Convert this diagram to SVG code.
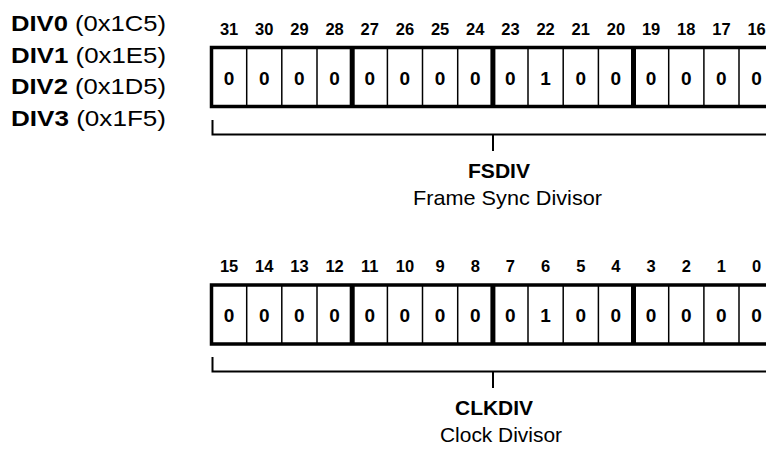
<svg xmlns="http://www.w3.org/2000/svg" width="766" height="450" viewBox="0 0 766 450">
<style>
text{font-family:"Liberation Sans",Arial,sans-serif;fill:#000}
.lbl{font-size:22.5px}
.b{font-weight:bold}
.bit{font-size:16.5px;font-weight:bold;text-anchor:middle}
.val{font-size:19px;font-weight:bold;text-anchor:middle}
.outer{fill:#fff;stroke:#000;stroke-width:3.5}
.thin{stroke:#000;stroke-width:1.5}
.thick{stroke:#000;stroke-width:5}
.br{fill:none;stroke:#000;stroke-width:2}
.cap{font-size:21px;font-weight:bold}
.sub{font-size:21px}
</style>
<g id="labels">
<text class="lbl" x="11" y="31" textLength="155" lengthAdjust="spacingAndGlyphs"><tspan class="b">DIV0</tspan> (0x1C5)</text>
<text class="lbl" x="11" y="62.5" textLength="155" lengthAdjust="spacingAndGlyphs"><tspan class="b">DIV1</tspan> (0x1E5)</text>
<text class="lbl" x="11" y="94" textLength="155" lengthAdjust="spacingAndGlyphs"><tspan class="b">DIV2</tspan> (0x1D5)</text>
<text class="lbl" x="11" y="125.5" textLength="155" lengthAdjust="spacingAndGlyphs"><tspan class="b">DIV3</tspan> (0x1F5)</text>
</g>
<g id="fsdiv-register">
<g class="bit">
<text x="229.1" y="34.5">31</text><text x="264.3" y="34.5">30</text><text x="299.4" y="34.5">29</text><text x="334.6" y="34.5">28</text>
<text x="369.8" y="34.5">27</text><text x="404.9" y="34.5">26</text><text x="440.1" y="34.5">25</text><text x="475.3" y="34.5">24</text>
<text x="510.4" y="34.5">23</text><text x="545.6" y="34.5">22</text><text x="580.8" y="34.5">21</text><text x="615.9" y="34.5">20</text>
<text x="651.1" y="34.5">19</text><text x="686.3" y="34.5">18</text><text x="721.4" y="34.5">17</text><text x="756.6" y="34.5">16</text>
</g>
<rect class="outer" x="211.5" y="47.5" width="562.7" height="59"/>
<g class="thin">
<line x1="246.7" y1="47.5" x2="246.7" y2="106.5"/><line x1="281.8" y1="47.5" x2="281.8" y2="106.5"/><line x1="317" y1="47.5" x2="317" y2="106.5"/>
<line x1="387.4" y1="47.5" x2="387.4" y2="106.5"/><line x1="422.5" y1="47.5" x2="422.5" y2="106.5"/><line x1="457.7" y1="47.5" x2="457.7" y2="106.5"/>
<line x1="528" y1="47.5" x2="528" y2="106.5"/><line x1="563.2" y1="47.5" x2="563.2" y2="106.5"/><line x1="598.4" y1="47.5" x2="598.4" y2="106.5"/>
<line x1="668.7" y1="47.5" x2="668.7" y2="106.5"/><line x1="703.9" y1="47.5" x2="703.9" y2="106.5"/><line x1="739" y1="47.5" x2="739" y2="106.5"/>
</g>
<g class="thick">
<line x1="352.2" y1="47.5" x2="352.2" y2="106.5"/><line x1="492.9" y1="47.5" x2="492.9" y2="106.5"/><line x1="633.5" y1="47.5" x2="633.5" y2="106.5"/>
</g>
<g class="val">
<text x="229.1" y="84.5">0</text><text x="264.3" y="84.5">0</text><text x="299.4" y="84.5">0</text><text x="334.6" y="84.5">0</text>
<text x="369.8" y="84.5">0</text><text x="404.9" y="84.5">0</text><text x="440.1" y="84.5">0</text><text x="475.3" y="84.5">0</text>
<text x="510.4" y="84.5">0</text><text x="545.6" y="84.5">1</text><text x="580.8" y="84.5">0</text><text x="615.9" y="84.5">0</text>
<text x="651.1" y="84.5">0</text><text x="686.3" y="84.5">0</text><text x="721.4" y="84.5">0</text><text x="756.6" y="84.5">0</text>
</g>
</g>
<g id="clkdiv-register">
<g class="bit">
<text x="229.1" y="271.5">15</text><text x="264.3" y="271.5">14</text><text x="299.4" y="271.5">13</text><text x="334.6" y="271.5">12</text>
<text x="369.8" y="271.5">11</text><text x="404.9" y="271.5">10</text><text x="440.1" y="271.5">9</text><text x="475.3" y="271.5">8</text>
<text x="510.4" y="271.5">7</text><text x="545.6" y="271.5">6</text><text x="580.8" y="271.5">5</text><text x="615.9" y="271.5">4</text>
<text x="651.1" y="271.5">3</text><text x="686.3" y="271.5">2</text><text x="721.4" y="271.5">1</text><text x="756.6" y="271.5">0</text>
</g>
<rect class="outer" x="211.5" y="285" width="562.7" height="59"/>
<g class="thin">
<line x1="246.7" y1="285" x2="246.7" y2="344"/><line x1="281.8" y1="285" x2="281.8" y2="344"/><line x1="317" y1="285" x2="317" y2="344"/>
<line x1="387.4" y1="285" x2="387.4" y2="344"/><line x1="422.5" y1="285" x2="422.5" y2="344"/><line x1="457.7" y1="285" x2="457.7" y2="344"/>
<line x1="528" y1="285" x2="528" y2="344"/><line x1="563.2" y1="285" x2="563.2" y2="344"/><line x1="598.4" y1="285" x2="598.4" y2="344"/>
<line x1="668.7" y1="285" x2="668.7" y2="344"/><line x1="703.9" y1="285" x2="703.9" y2="344"/><line x1="739" y1="285" x2="739" y2="344"/>
</g>
<g class="thick">
<line x1="352.2" y1="285" x2="352.2" y2="344"/><line x1="492.9" y1="285" x2="492.9" y2="344"/><line x1="633.5" y1="285" x2="633.5" y2="344"/>
</g>
<g class="val">
<text x="229.1" y="322">0</text><text x="264.3" y="322">0</text><text x="299.4" y="322">0</text><text x="334.6" y="322">0</text>
<text x="369.8" y="322">0</text><text x="404.9" y="322">0</text><text x="440.1" y="322">0</text><text x="475.3" y="322">0</text>
<text x="510.4" y="322">0</text><text x="545.6" y="322">1</text><text x="580.8" y="322">0</text><text x="615.9" y="322">0</text>
<text x="651.1" y="322">0</text><text x="686.3" y="322">0</text><text x="721.4" y="322">0</text><text x="756.6" y="322">0</text>
</g>
</g>
<g id="connectors">
<path class="br" d="M212.5,120 V134.5 H776"/>
<path class="br" d="M493,134.5 V151"/>
<path class="br" d="M212.5,357 V371.5 H776"/>
<path class="br" d="M493,371.5 V388"/>
</g>
<g id="fsdiv-label">
<text class="cap" x="468" y="178" textLength="62" lengthAdjust="spacingAndGlyphs">FSDIV</text>
<text class="sub" x="413" y="205" textLength="189" lengthAdjust="spacingAndGlyphs">Frame Sync Divisor</text>
</g>
<g id="clkdiv-label">
<text class="cap" x="455" y="415" textLength="78" lengthAdjust="spacingAndGlyphs">CLKDIV</text>
<text class="sub" x="440" y="442" textLength="122" lengthAdjust="spacingAndGlyphs">Clock Divisor</text>
</g>
</svg>
